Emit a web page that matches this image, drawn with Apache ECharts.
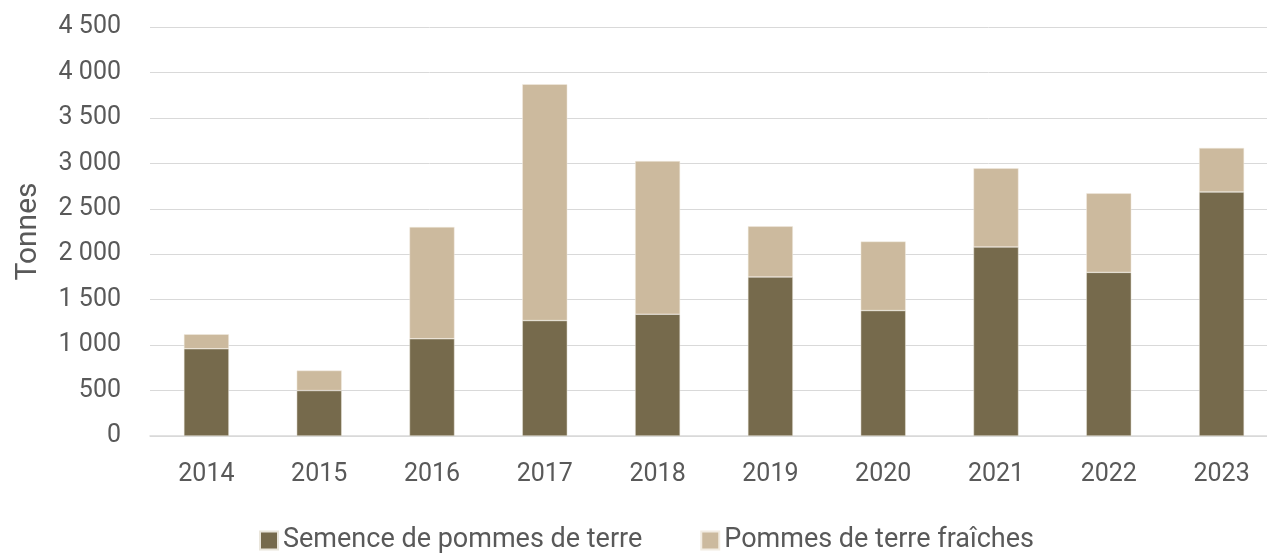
<!DOCTYPE html>
<html>
<head>
<meta charset="utf-8">
<script src="https://cdn.jsdelivr.net/npm/echarts@6/dist/echarts.min.js"></script>
<style>
  html, body { margin: 0; padding: 0; background: #fff; }
  #chart { width: 1267px; height: 556px; }
</style>
</head>
<body>
<div id="chart"></div>
<script>
  // données
  const annees = ['2014', '2015', '2016', '2017', '2018', '2019', '2020', '2021', '2022', '2023'];
  const semence = [960, 500, 1070, 1270, 1340, 1750, 1380, 2080, 1800, 2685];
  const fraiches = [160, 220, 1230, 2600, 1685, 557, 760, 865, 870, 485];
  const nomsSeries = ['Semence de pommes de terre', 'Pommes de terre fraîches'];

  const police = 'Roboto, sans-serif';

  let myChart = echarts.init(document.getElementById('chart'));
  let option = {
    animation: false,
    grid: {
      left: 150,
      right: -11,
      top: 27,
      bottom: 120,
      containLabel: false,
      outerBoundsMode: 'none'
    },
    legend: {
      data: nomsSeries,
      top: 527,
      left: 259,
      itemGap: 58,
      itemWidth: 18,
      itemHeight: 18,
      icon: 'rect',
      padding: 0,
      textStyle: {
        color: '#595959',
        fontSize: 27,
        fontFamily: police
      }
    },
    xAxis: {
      type: 'category',
      data: annees,
      axisLine: { lineStyle: { color: '#D9D9D9', width: 1.5 } },
      axisTick: { show: false },
      axisLabel: {
        color: '#595959',
        fontSize: 25,
        margin: 26,
        fontFamily: police
      }
    },
    yAxis: {
      type: 'value',
      min: 0,
      max: 4500,
      interval: 500,
      name: 'Tonnes',
      nameLocation: 'middle',
      nameGap: 107,
      nameTextStyle: { color: '#595959', fontSize: 30, fontFamily: police },
      axisLine: { show: false },
      axisTick: { show: false },
      splitLine: { lineStyle: { color: '#D9D9D9', width: 1 } },
      axisLabel: {
        color: '#595959',
        fontSize: 25,
        margin: 29,
        fontFamily: police,
        formatter: function (v) {
          return String(v).replace(/\B(?=(\d{3})+(?!\d))/g, ' ');
        }
      }
    },
    series: [
      {
        name: nomsSeries[0],
        type: 'bar',
        stack: 'total',
        barWidth: 45,
        data: semence,
        itemStyle: { color: '#766A4C', borderColor: '#EAE6DC', borderWidth: 0.5 }
      },
      {
        name: nomsSeries[1],
        type: 'bar',
        stack: 'total',
        barWidth: 45,
        data: fraiches,
        itemStyle: { color: '#CCBA9E', borderColor: '#F2ECE2', borderWidth: 0.5 }
      }
    ]
  };
  myChart.setOption(option);
</script>
</body>
</html>
